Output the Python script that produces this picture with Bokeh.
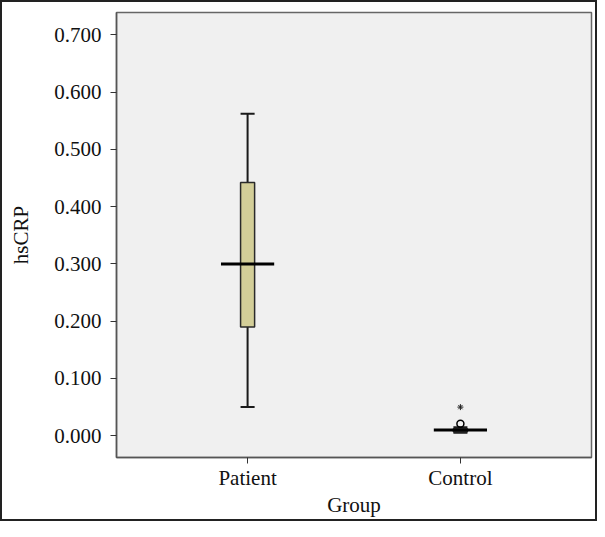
from bokeh.plotting import figure
from bokeh.layouts import column
from bokeh.models import Range1d, FixedTicker
from bokeh.embed import file_html
from bokeh.resources import INLINE

groups = ["Patient", "Control"]
lower_whisker = [0.050, 0.005]
q1 = [0.190, 0.007]
median = [0.300, 0.010]
q3 = [0.442, 0.012]
upper_whisker = [0.562, 0.015]
outlier_group = ["Control"]
outlier_values = [0.021]
extreme_group = ["Control"]
extreme_values = [0.050]
y_ticks = [0.0, 0.1, 0.2, 0.3, 0.4, 0.5, 0.6, 0.7]
y_tick_labels = ["0.000", "0.100", "0.200", "0.300", "0.400", "0.500", "0.600", "0.700"]

xpos = {g: i + 1 for i, g in enumerate(groups)}
xs = [xpos[g] for g in groups]

FONT = "Liberation Serif"

p = figure(width=593, height=517, output_backend="svg", toolbar_location=None,
           x_range=Range1d(0.384, 2.616), y_range=Range1d(-0.038, 0.739),
           min_border_left=114, min_border_top=10, min_border_right=4, min_border_bottom=60)
p.border_fill_color = "white"
p.background_fill_color = "#f0f0f0"
p.outline_line_color = "#666666"
p.outline_line_width = 1.5
p.grid.visible = False

bw = 0.066
mw = 0.125
# whiskers
p.segment(x0=xs, y0=lower_whisker, x1=xs, y1=q1, line_color="#1a1a1a", line_width=2)
p.segment(x0=xs, y0=q3, x1=xs, y1=upper_whisker, line_color="#1a1a1a", line_width=2)
p.segment(x0=[x - bw / 2 for x in xs], y0=lower_whisker, x1=[x + bw / 2 for x in xs], y1=lower_whisker,
          line_color="#1a1a1a", line_width=2)
p.segment(x0=[x - bw / 2 for x in xs], y0=upper_whisker, x1=[x + bw / 2 for x in xs], y1=upper_whisker,
          line_color="#1a1a1a", line_width=2)
# boxes
p.vbar(x=xs, width=bw, bottom=q1, top=q3, fill_color="#d3ce98", line_color="#2a2a2a", line_width=1.5)
# medians
p.segment(x0=[x - mw for x in xs], y0=median, x1=[x + mw for x in xs], y1=median,
          line_color="black", line_width=3)
# outliers
p.scatter(x=[xpos[g] for g in outlier_group], y=outlier_values, marker="circle", size=7,
          fill_color=None, line_color="black", line_width=1.5)
p.scatter(x=[xpos[g] for g in extreme_group], y=extreme_values, marker="asterisk", size=6,
          line_color="#222222", line_width=1)

# axes
p.xaxis.ticker = FixedTicker(ticks=xs)
p.xaxis.major_label_overrides = {x: g for x, g in zip(xs, groups)}
p.yaxis.ticker = FixedTicker(ticks=y_ticks)
p.yaxis.major_label_overrides = {t: l for t, l in zip(y_ticks, y_tick_labels)}
p.xaxis.axis_label = "Group"
p.yaxis.axis_label = "hsCRP"
for ax in (p.xaxis, p.yaxis):
    ax.axis_label_text_font = FONT
    ax.axis_label_text_font_style = "normal"
    ax.axis_label_text_font_size = "21px"
    ax.axis_label_text_color = "#111111"
    ax.major_label_text_font = FONT
    ax.major_label_text_font_size = "21px"
    ax.major_label_text_color = "#111111"
    ax.axis_line_color = "#555555"
    ax.axis_line_width = 1.5
    ax.major_tick_line_color = "#333333"
    ax.major_tick_in = 0
    ax.minor_tick_line_color = None
p.yaxis.major_tick_out = 6
p.xaxis.major_tick_out = 6
p.yaxis.major_label_standoff = 9
p.xaxis.major_label_standoff = 2
p.yaxis.axis_label_standoff = 18
p.xaxis.axis_label_standoff = 0

layout = column(p, styles={"border": "2px solid #222222"})

open("out.html", "w").write(file_html(layout, INLINE))
